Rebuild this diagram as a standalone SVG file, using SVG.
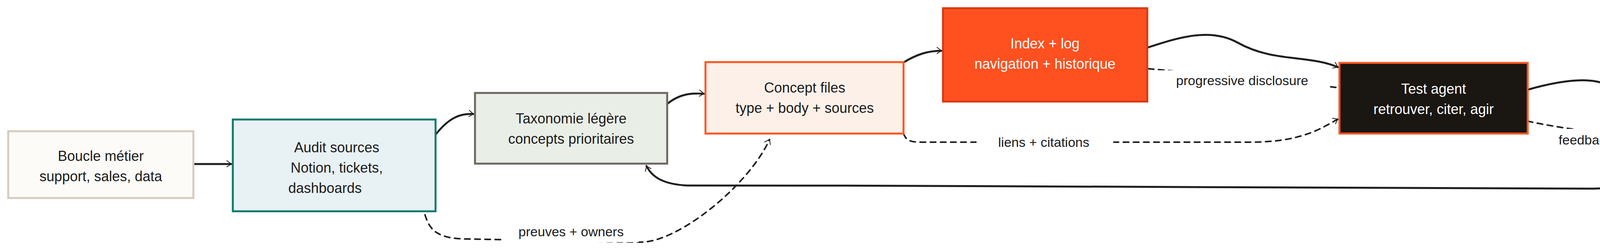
<svg xmlns="http://www.w3.org/2000/svg" width="4792" height="635" viewBox="0 0 4792 635">
<style>
text{font-family:"Liberation Sans","DejaVu Sans",sans-serif;font-size:36px;text-anchor:middle;fill:#1b1b1b}
.w{fill:#ffffff}
.c{fill:none;stroke:#1e1e1e;stroke-width:5;stroke-linecap:round}
.d{fill:none;stroke:#1e1e1e;stroke-width:4;stroke-dasharray:14 12;stroke-linecap:round}
.lbl{font-size:34px}
</style>
<defs>
<marker id="a" viewBox="0 0 20 20" refX="18" refY="10" markerWidth="8" markerHeight="8" markerUnits="userSpaceOnUse" orient="auto" style="overflow:visible">
<path d="M-10,-12 L18,10 L-10,28" fill="none" stroke="#1e1e1e" stroke-width="5" stroke-linecap="round" stroke-linejoin="round"/>
</marker>
<marker id="s" viewBox="0 0 20 20" refX="18" refY="10" markerWidth="8" markerHeight="8" markerUnits="userSpaceOnUse" orient="auto" style="overflow:visible">
<path d="M8,4 L18,10 L8,16 Z" fill="#1e1e1e"/>
</marker>
</defs>
<rect width="4792" height="635" fill="#ffffff"/>
<g id="connectors">
<path class="c" marker-end="url(#a)" d="M495,420 L592,420"/>
<path class="c" marker-end="url(#a)" d="M1115,345 C1150,300 1180,290 1212,292"/>
<path class="c" marker-end="url(#a)" d="M1708,266 C1740,240 1770,238 1802,240"/>
<path class="c" marker-end="url(#a)" d="M2313,160 C2345,140 2375,130 2410,130"/>
<path class="c" marker-end="url(#a)" d="M2937,122 C3020,95 3100,70 3170,110 C3260,160 3350,140 3425,172"/>
<path class="d" marker-end="url(#s)" d="M2940,176 C3100,190 3300,210 3422,224"/>
<path class="d" marker-end="url(#a)" d="M2313,342 C2320,360 2330,364 2360,364 L3200,364 C3330,364 3380,330 3425,305"/>
<path class="d" marker-end="url(#a)" d="M1088,550 C1100,590 1120,612 1200,612 L1640,620 C1740,620 1920,470 1970,357"/>
<path class="c" marker-end="url(#a)" d="M3910,230 C3980,210 4060,195 4110,215 C4180,240 4250,260 4308,268"/>
<path class="d" marker-end="url(#s)" d="M3910,310 C4000,330 4150,350 4305,352"/>
<path class="c" marker-end="url(#a)" d="M4310,408 C4250,450 4200,480 4080,483 C3500,480 2600,475 1760,475 C1700,472 1670,455 1655,425"/>
</g>
<rect x="2955" y="180" width="450" height="50" fill="#ffffff"/>
<text class="lbl" x="3180" y="218">progressive disclosure</text>
<rect x="2500" y="340" width="350" height="48" fill="#ffffff"/>
<text class="lbl" x="2672" y="376">liens + citations</text>
<rect x="1290" y="570" width="345" height="50" fill="#ffffff"/>
<text class="lbl" x="1462" y="605">preuves + owners</text>
<rect x="3945" y="330" width="340" height="50" fill="#ffffff"/>
<text class="lbl" x="4112" y="370">feedback terrain</text>
<g id="boucle">
<rect x="21" y="336" width="474" height="171" fill="#fdfbf7" stroke="#d6cbbd" stroke-width="5"/>
<text x="258" y="412">Boucle métier</text>
<text x="258" y="464">support, sales, data</text>
</g>
<g id="audit">
<rect x="596" y="306" width="519" height="235" fill="#e8f1f3" stroke="#0f7a6e" stroke-width="5"/>
<text x="862" y="390">Audit sources</text>
<text x="862" y="442">Notion, tickets,</text>
<text x="832" y="494">dashboards</text>
</g>
<g id="taxonomie">
<rect x="1216" y="238" width="492" height="181" fill="#e9eee7" stroke="#6e6760" stroke-width="5"/>
<text x="1462" y="316">Taxonomie légère</text>
<text x="1462" y="368">concepts prioritaires</text>
</g>
<g id="concept">
<rect x="1806" y="159" width="507" height="183" fill="#fdf0e8" stroke="#ff5722" stroke-width="5"/>
<text x="2060" y="237">Concept files</text>
<text x="2060" y="289">type + body + sources</text>
</g>
<g id="index">
<rect x="2414" y="21" width="523" height="239" fill="#ff5020" stroke="#d83a12" stroke-width="5"/>
<text class="w" x="2675" y="124">Index + log</text>
<text class="w" x="2675" y="176">navigation + historique</text>
</g>
<g id="test">
<rect x="3429" y="161" width="482" height="181" fill="#1a1612" stroke="#ff5722" stroke-width="5"/>
<text class="w" x="3670" y="240">Test agent</text>
<text class="w" x="3670" y="292">retrouver, citer, agir</text>
</g>
<g id="iteration">
<rect x="4311" y="240" width="460" height="174" fill="#fdfbf7" stroke="#d6cbbd" stroke-width="5"/>
<text x="4541" y="316">Itération</text>
<text x="4541" y="368">corriger et enrichir</text>
</g>
</svg>
